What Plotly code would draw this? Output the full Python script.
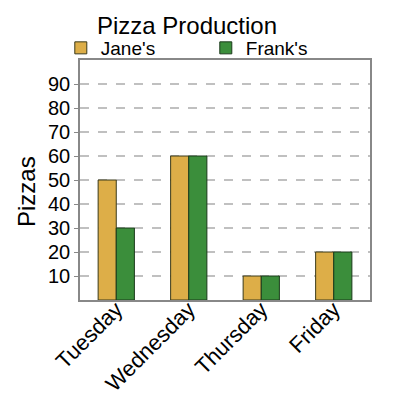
import plotly.graph_objects as go

days = ["Tuesday", "Wednesday", "Thursday", "Friday"]
jane = [50, 60, 10, 20]
frank = [30, 60, 10, 20]
y_ticks = [10, 20, 30, 40, 50, 60, 70, 80, 90]

fig = go.Figure()
fig.add_trace(go.Bar(x=days, y=jane, name="Jane's",
                     marker=dict(color="#ddae48", line=dict(color="#3a3a1a", width=1))))
fig.add_trace(go.Bar(x=days, y=frank, name="Frank's",
                     marker=dict(color="#3b8e3b", line=dict(color="#1a3a1a", width=1))))

fig.add_annotation(text="Pizzas", textangle=-90, xref="paper", yref="paper",
                   x=(26 - 80) / 290, y=(300 - 192) / 240, showarrow=False,
                   xanchor="center", yanchor="middle", font=dict(size=24, color="black"))

fig.update_layout(
    width=400, height=400,
    margin=dict(l=80, r=30, t=60, b=100, autoexpand=False),
    paper_bgcolor="white", plot_bgcolor="white",
    barmode="group", bargap=0.5, bargroupgap=0,
    font=dict(family="Liberation Sans, Arial, sans-serif", color="black"),
    title=dict(text="Pizza Production", x=0.369, xref="paper", xanchor="center",
               y=0.935, yref="container", yanchor="middle",
               font=dict(size=24, color="black")),
    legend=dict(orientation="h", xref="container", x=0.152, xanchor="left",
                yref="container", y=1 - 48 / 400, yanchor="middle",
                font=dict(size=19), entrywidth=100, entrywidthmode="pixels",
                itemwidth=30, bgcolor="rgba(0,0,0,0)", tracegroupgap=0,
                borderwidth=0),
    xaxis=dict(tickangle=-45, tickfont=dict(size=22), showline=True, linecolor="#888888",
               linewidth=1.5, mirror=True, ticks="", showgrid=False, automargin=False,
               ticklabelstandoff=-14),
    yaxis=dict(range=[0, 100], tickvals=y_ticks, tickfont=dict(size=20),
               showline=True, linecolor="#888888", linewidth=1.5, mirror=True,
               ticks="outside", ticklen=4, tickcolor="#888888",
               showgrid=True, gridcolor="#c0c0c0", griddash="dash", gridwidth=1.5,
               zeroline=False, automargin=False),
)

fig.write_html("out.html", config={"displayModeBar": False},
               post_script="document.body.style.margin='0';document.body.style.padding='0';")
